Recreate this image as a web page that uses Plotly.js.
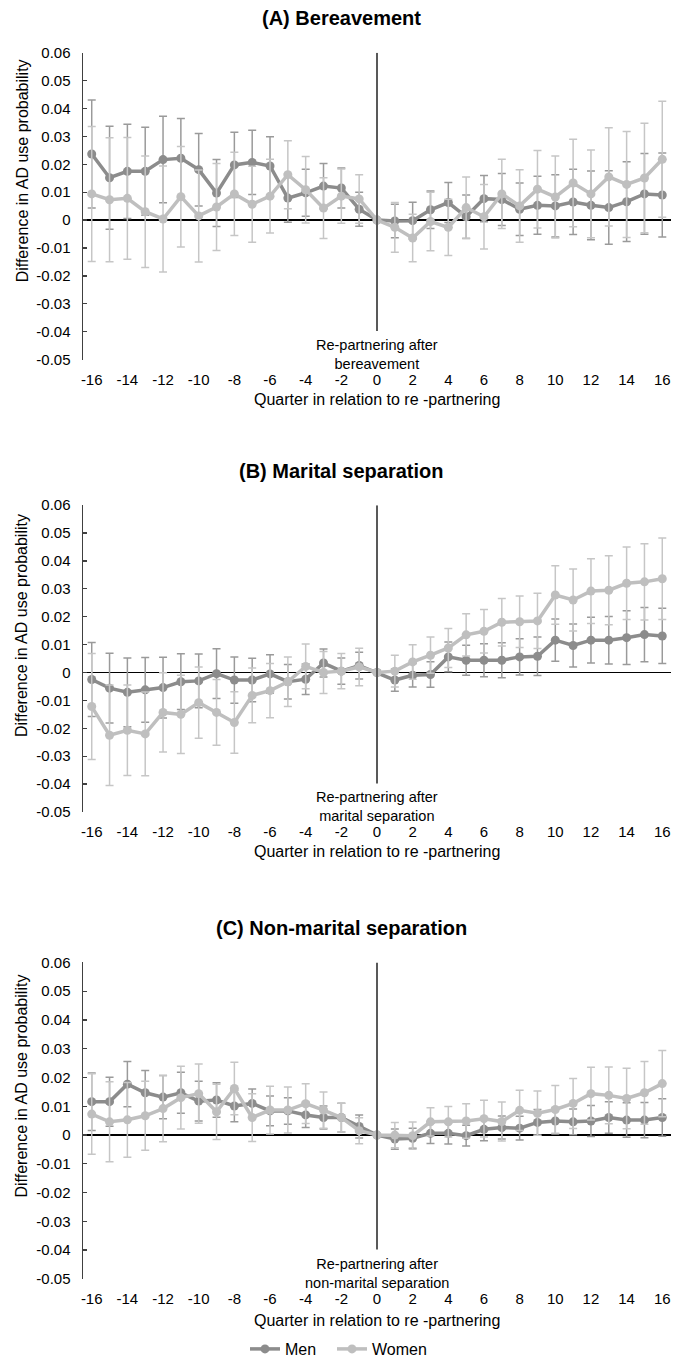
<!DOCTYPE html>
<html>
<head>
<meta charset="utf-8">
<script src="https://cdn.plot.ly/plotly-3.0.1.min.js"></script>
<style>html,body{margin:0;padding:0;background:#fff;}#chart{width:682px;height:1366px;}</style>
</head>
<body>
<div id="chart"></div>
<script>
// ---------- DATA ----------
const quarters = [-16,-15,-14,-13,-12,-11,-10,-9,-8,-7,-6,-5,-4,-3,-2,-1,0,1,2,3,4,5,6,7,8,9,10,11,12,13,14,15,16];

const panelTitles = ["(A) Bereavement", "(B) Marital separation", "(C) Non-marital separation"];
const eventLabels = ["Re-partnering after<br>bereavement", "Re-partnering after<br>marital separation", "Re-partnering after<br>non-marital separation"];
const seriesNames = ["Men", "Women"];
const xAxisTitle = "Quarter in relation to re -partnering";
const yAxisTitle = "Difference in AD use probability";

const xTickVals = [-16,-14,-12,-10,-8,-6,-4,-2,0,2,4,6,8,10,12,14,16];
const xTickText = ["-16","-14","-12","-10","-8","-6","-4","-2","0","2","4","6","8","10","12","14","16"];
const yTickVals = [0.06,0.05,0.04,0.03,0.02,0.01,0,-0.01,-0.02,-0.03,-0.04,-0.05];
const yTickText = ["0.06","0.05","0.04","0.03","0.02","0.01","0","-0.01","-0.02","-0.03","-0.04","-0.05"];

// (A) Bereavement
const menA = [0.0237,0.0152,0.0175,0.0175,0.0217,0.0222,0.0181,0.0097,0.0198,0.0207,0.0194,0.0079,0.0098,0.0122,0.0115,0.0039,
  0,
  -0.0003,-0.0002,0.0037,0.0063,0.0012,0.0077,0.0074,0.0039,0.0053,0.0051,0.0065,0.0053,0.0045,0.0066,0.0094,0.0090];
const menErrA = [0.0194,0.0185,0.0169,0.0158,0.0155,0.0142,0.0130,0.0120,0.0117,0.0115,0.0105,0.0087,0.0084,0.0081,0.0072,0.0061,
  0,
  0.0060,0.0066,0.0067,0.0072,0.0078,0.0083,0.0093,0.0094,0.0104,0.0112,0.0117,0.0123,0.0132,0.0143,0.0145,0.0151];
const womenA = [0.0094,0.0073,0.0078,0.0030,0.0004,0.0084,0.0015,0.0047,0.0094,0.0057,0.0086,0.0163,0.0109,0.0043,0.0086,0.0076,
  0,
  -0.0026,-0.0064,-0.0005,-0.0026,0.0045,0.0012,0.0094,0.0051,0.0111,0.0083,0.0133,0.0094,0.0155,0.0128,0.0151,0.0218];
const womenErrA = [0.0242,0.0222,0.0218,0.0200,0.0190,0.0180,0.0165,0.0156,0.0149,0.0136,0.0132,0.0122,0.0119,0.0109,0.0097,0.0087,
  0,
  0.0089,0.0085,0.0105,0.0101,0.0110,0.0116,0.0124,0.0130,0.0139,0.0147,0.0157,0.0157,0.0176,0.0190,0.0196,0.0208];

// (B) Marital separation
const menB = [-0.0025,-0.0056,-0.0071,-0.0062,-0.0054,-0.0033,-0.0030,-0.0004,-0.0027,-0.0027,-0.0005,-0.0033,-0.0024,0.0034,0.0005,0.0025,
  0,
  -0.0027,-0.0010,-0.0007,0.0056,0.0044,0.0044,0.0044,0.0056,0.0058,0.0116,0.0097,0.0116,0.0116,0.0125,0.0136,0.0131];
const menErrB = [0.0133,0.0125,0.0123,0.0116,0.0109,0.0100,0.0096,0.0089,0.0083,0.0078,0.0069,0.0062,0.0055,0.0050,0.0047,0.0048,
  0,
  0.0040,0.0042,0.0046,0.0053,0.0054,0.0059,0.0063,0.0065,0.0069,0.0076,0.0077,0.0082,0.0085,0.0096,0.0097,0.0099];
const womenB = [-0.0122,-0.0225,-0.0207,-0.0220,-0.0143,-0.0150,-0.0108,-0.0143,-0.0179,-0.0082,-0.0065,-0.0033,0.0022,0.0000,0.0005,0.0020,
  0,
  0.0005,0.0038,0.0062,0.0088,0.0135,0.0148,0.0180,0.0182,0.0185,0.0278,0.0260,0.0292,0.0295,0.0320,0.0325,0.0336];
const womenErrB = [0.0190,0.0180,0.0162,0.0150,0.0142,0.0140,0.0128,0.0118,0.0110,0.0098,0.0097,0.0089,0.0080,0.0075,0.0063,0.0067,
  0,
  0.0057,0.0062,0.0065,0.0070,0.0076,0.0078,0.0085,0.0092,0.0099,0.0105,0.0111,0.0116,0.0124,0.0130,0.0137,0.0146];

// (C) Non-marital separation
const menC = [0.0116,0.0116,0.0177,0.0147,0.0132,0.0147,0.0118,0.0122,0.0101,0.0110,0.0084,0.0084,0.0070,0.0061,0.0061,0.0030,
  0,
  -0.0014,-0.0011,0.0006,0.0006,-0.0002,0.0020,0.0026,0.0024,0.0044,0.0049,0.0046,0.0049,0.0061,0.0052,0.0052,0.0061];
const menErrC = [0.0100,0.0085,0.0079,0.0077,0.0075,0.0071,0.0069,0.0060,0.0055,0.0050,0.0052,0.0046,0.0044,0.0040,0.0050,0.0040,
  0,
  0.0035,0.0035,0.0035,0.0037,0.0036,0.0040,0.0040,0.0041,0.0045,0.0045,0.0045,0.0054,0.0055,0.0060,0.0061,0.0065];
const womenC = [0.0073,0.0046,0.0053,0.0067,0.0092,0.0130,0.0144,0.0081,0.0162,0.0061,0.0087,0.0087,0.0109,0.0087,0.0061,0.0015,
  0,
  0.0000,-0.0002,0.0046,0.0046,0.0049,0.0057,0.0047,0.0086,0.0076,0.0089,0.0110,0.0144,0.0138,0.0127,0.0147,0.0179];
const womenErrC = [0.0140,0.0139,0.0130,0.0120,0.0115,0.0109,0.0103,0.0096,0.0091,0.0083,0.0083,0.0080,0.0069,0.0063,0.0050,0.0045,
  0,
  0.0044,0.0047,0.0049,0.0053,0.0060,0.0064,0.0068,0.0070,0.0077,0.0083,0.0087,0.0092,0.0099,0.0105,0.0109,0.0115];

// ---------- STYLE / LAYOUT ----------
const W = 682, H = 1366;
const FONT = "Liberation Sans, Arial, sans-serif";
const menColor = "#8c8c8c", womenColor = "#bfbfbf";
const menErrColor = "#9a9a9a", womenErrColor = "#c6c6c6";

const py = p => 1 - p / H;          // pixel y -> paper y
const px = p => p / W;              // pixel x -> paper x

const xDomain = [px(82.8), px(671.2)];
// pixel positions of y = 0.06 (top) and y = -0.05 (bottom) per panel
const panelPix = [[53.3, 363.0], [510.0, 819.8], [971.7, 1291.2]];
const titlePix = [18, 476, 937];
const xTitlePix = [403, 860, 1333];
const yTitlePix = [173, 632, 1097];

const menSets = [[menA, menErrA], [menB, menErrB], [menC, menErrC]];
const womenSets = [[womenA, womenErrA], [womenB, womenErrB], [womenC, womenErrC]];

const legendStyle = (xPix) => ({
  orientation: "h", x: px(xPix), y: py(1345), xanchor: "left", yanchor: "top",
  font: {family: FONT, size: 16, color: "#000"}, itemwidth: 30,
  bgcolor: "rgba(0,0,0,0)"
});

const traces = [];
const layout = {
  width: W, height: H,
  margin: {l: 0, r: 0, t: 0, b: 0},
  paper_bgcolor: "#fff", plot_bgcolor: "#fff",
  font: {family: FONT, color: "#000", size: 15},
  showlegend: true,
  legend: legendStyle(245),
  legend2: legendStyle(332),
  shapes: [], annotations: []
};

for (let i = 0; i < 3; i++) {
  const sfx = i === 0 ? "" : String(i + 1);
  const xa = "x" + sfx, ya = "y" + sfx;
  const [top, bot] = panelPix[i];

  layout["xaxis" + sfx] = {
    domain: xDomain, anchor: ya, range: [-16.5, 16.5],
    tickvals: xTickVals, ticktext: xTickText,
    showline: false, showgrid: false, zeroline: false, ticks: "",
    tickfont: {family: FONT, size: 15, color: "#000"},
    ticklabelstandoff: 9, fixedrange: true
  };
  layout["yaxis" + sfx] = {
    domain: [py(bot), py(top)], anchor: xa, range: [-0.05, 0.06],
    tickvals: yTickVals, ticktext: yTickText,
    showline: true, linecolor: "#404040", linewidth: 1.3,
    ticks: "inside", ticklen: 4, tickcolor: "#404040", tickwidth: 1.3,
    showgrid: false, zeroline: true, zerolinecolor: "#000", zerolinewidth: 1.5,
    tickfont: {family: FONT, size: 15, color: "#000"},
    ticklabelstandoff: 8, fixedrange: true
  };

  traces.push({
    type: "scatter", mode: "lines+markers", x: quarters, y: menSets[i][0],
    xaxis: xa, yaxis: ya, name: seriesNames[0], legend: "legend", showlegend: i === 0,
    line: {color: menColor, width: 3.5}, marker: {color: menColor, size: 9},
    error_y: {type: "data", array: menSets[i][1], visible: true, color: menErrColor, thickness: 1.5, width: 4},
    cliponaxis: false
  });
  traces.push({
    type: "scatter", mode: "lines+markers", x: quarters, y: womenSets[i][0],
    xaxis: xa, yaxis: ya, name: seriesNames[1], legend: "legend2", showlegend: i === 0,
    line: {color: womenColor, width: 3.5}, marker: {color: womenColor, size: 9},
    error_y: {type: "data", array: womenSets[i][1], visible: true, color: womenErrColor, thickness: 1.5, width: 4},
    cliponaxis: false
  });

  // vertical event line at quarter 0
  layout.shapes.push({
    type: "line", xref: xa, yref: ya, x0: 0, x1: 0, y0: -0.0398, y1: 0.06,
    line: {color: "#595959", width: 2}, layer: "above"
  });

  // event label
  layout.annotations.push({
    xref: xa, yref: ya, x: 0, y: -0.05, yanchor: "bottom", xanchor: "center",
    text: eventLabels[i], showarrow: false, align: "center",
    font: {family: FONT, size: 14.5, color: "#000"}, yshift: -14
  });
  // panel title
  layout.annotations.push({
    xref: "paper", yref: "paper", x: 0.5, y: py(titlePix[i]), xanchor: "center", yanchor: "middle",
    text: "<b>" + panelTitles[i] + "</b>", showarrow: false,
    font: {family: FONT, size: 20, color: "#000"}
  });
  // x-axis title
  layout.annotations.push({
    xref: "paper", yref: "paper", x: px(377), y: py(xTitlePix[i]), xanchor: "center", yanchor: "middle",
    text: xAxisTitle, showarrow: false,
    font: {family: FONT, size: 16, color: "#000"}
  });
  // y-axis title
  layout.annotations.push({
    xref: "paper", yref: "paper", x: px(22), y: py(yTitlePix[i]), xanchor: "center", yanchor: "middle",
    text: yAxisTitle, showarrow: false, textangle: -90,
    font: {family: FONT, size: 16, color: "#000"}
  });
}

Plotly.newPlot("chart", traces, layout, {displayModeBar: false, staticPlot: true});
</script>
</body>
</html>
